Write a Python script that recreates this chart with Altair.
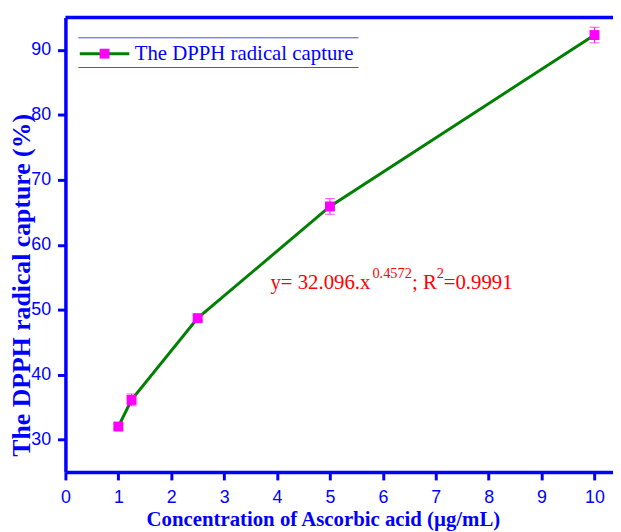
import altair as alt
import pandas as pd

# ---- data ----
conc = [1, 1.25, 2.5, 5, 10]
capture = [32.0, 36.1, 48.7, 65.9, 92.3]
err = [0.4, 0.9, 0.4, 1.2, 1.2]

x_ticks = [i * 0.5 for i in range(0, 21)]
y_ticks = list(range(30, 91, 5))

legend_label = ["The DPPH radical capture"]
ann_parts = ["y= 32.096.x", "0.4572", "; R", "2", "=0.9991"]

x_title = "Concentration of Ascorbic acid (µg/mL)"
y_title = "The DPPH radical capture (%)"

df = pd.DataFrame({"conc": conc, "cap": capture, "err": err})
df["lo"] = df["cap"] - df["err"]
df["hi"] = df["cap"] + df["err"]

W, H = 553, 459
BLUE = "#0000FF"
MAG = "#FF00FF"
GREEN = "#008000"

xscale = alt.Scale(domain=[0, 10.35], nice=False, zero=False)
yscale = alt.Scale(domain=[25, 95], nice=False, zero=False)

common_axis = dict(
    grid=False,
    domainColor=BLUE,
    domainWidth=3.5,
    tickColor=BLUE,
    tickWidth=3,
    labelColor=BLUE,
    labelFont="Liberation Sans",
    labelFontSize=18,
    titleFont="Liberation Serif",
    titleFontWeight="bold",
    titleColor=BLUE,
)

xaxis = alt.Axis(
    values=x_ticks,
    labelExpr="datum.value % 1 === 0 ? datum.label : ''",
    tickSize={"condition": {"test": "datum.value % 1 === 0", "value": 8}, "value": 4},
    labelPadding=9,
    labelFlush=False,
    title=x_title,
    titleFontSize=21,
    titleX=260,
    titleY=54,
    titleAlign="center",
    titleBaseline="alphabetic",
    **common_axis,
)

yaxis = alt.Axis(
    values=y_ticks,
    labelExpr="datum.value % 10 === 0 ? datum.label : ''",
    tickSize={"condition": {"test": "datum.value % 10 === 0", "value": 8}, "value": 4},
    labelPadding=7,
    labelFlush=False,
    title=y_title,
    titleFontSize=26,
    titleX=-36,
    titleY=270,
    titleAngle=270,
    titleAlign="center",
    titleBaseline="alphabetic",
    **common_axis,
)

base = alt.Chart(df)

line = base.mark_line(color=GREEN, strokeWidth=3).encode(
    x=alt.X("conc:Q", scale=xscale, axis=xaxis),
    y=alt.Y("cap:Q", scale=yscale, axis=yaxis),
)

ebar = base.mark_rule(color=MAG, strokeWidth=1).encode(
    x=alt.X("conc:Q", scale=xscale),
    y=alt.Y("lo:Q", scale=yscale),
    y2="hi:Q",
)
cap_lo = base.mark_tick(color=MAG, size=10, thickness=1, orient="horizontal").encode(
    x=alt.X("conc:Q", scale=xscale),
    y=alt.Y("lo:Q", scale=yscale),
)
cap_hi = base.mark_tick(color=MAG, size=10, thickness=1, orient="horizontal").encode(
    x=alt.X("conc:Q", scale=xscale),
    y=alt.Y("hi:Q", scale=yscale),
)

pts = base.mark_point(shape="square", filled=True, size=100, color=MAG, opacity=1).encode(
    x=alt.X("conc:Q", scale=xscale),
    y=alt.Y("cap:Q", scale=yscale),
)

dummy = pd.DataFrame({"t": legend_label})

top_border = alt.Chart(dummy).mark_rule(color=BLUE, strokeWidth=3.5).encode(
    x=alt.value(0), x2=alt.value(W), y=alt.value(0)
)

leg_top = alt.Chart(dummy).mark_rule(color="#4848ff", strokeWidth=1).encode(
    x=alt.value(13), x2=alt.value(296), y=alt.value(20.5)
)
leg_bot = alt.Chart(dummy).mark_rule(color="#4848ff", strokeWidth=1).encode(
    x=alt.value(13), x2=alt.value(296), y=alt.value(50.5)
)
leg_line = alt.Chart(dummy).mark_rule(color=GREEN, strokeWidth=3).encode(
    x=alt.value(14.5), x2=alt.value(64.5), y=alt.value(36.5)
)
leg_pt = alt.Chart(dummy).mark_point(shape="square", filled=True, size=100, color=MAG, opacity=1).encode(
    x=alt.value(39.5), y=alt.value(36.5)
)
leg_txt = alt.Chart(dummy).mark_text(
    align="left", baseline="alphabetic", font="Liberation Serif", fontSize=21, color=BLUE
).encode(x=alt.value(70), y=alt.value(42.8), text="t:N")

ann_df = pd.DataFrame({"t": ann_parts})


def ann(i, x, y, size):
    return alt.Chart(ann_df.iloc[[i]]).mark_text(
        align="left", baseline="alphabetic", font="Liberation Serif", fontSize=size, color="#FF0000"
    ).encode(x=alt.value(x), y=alt.value(y), text="t:N")


ann_layers = [
    ann(0, 207, 274.5, 21),
    ann(1, 310, 263.5, 14.5),
    ann(2, 350, 274.5, 21),
    ann(3, 375, 263.5, 14.5),
    ann(4, 382, 274.5, 21),
]

chart = alt.layer(
    line, ebar, cap_lo, cap_hi, pts, top_border,
    leg_top, leg_bot, leg_line, leg_pt, leg_txt, *ann_layers
).properties(
    width=W,
    height=H,
    autosize=alt.AutoSizeParams(type="none"),
    padding={"left": 58, "top": 7, "right": 0, "bottom": 58},
    background="white",
).configure_view(stroke=None)

chart.save("out.html", embed_options={"renderer": "svg", "actions": False})
